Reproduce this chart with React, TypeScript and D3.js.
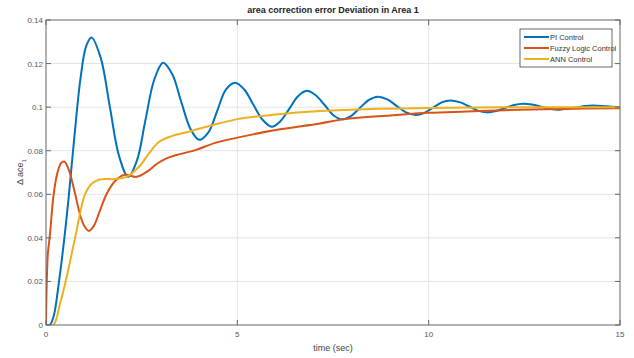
import React from 'react';
import * as d3 from 'd3';

// time (sec) / value pairs
const piTime = [0, 0.1, 0.2, 0.34, 0.48, 0.6, 0.75, 0.9, 1.05, 1.19, 1.43, 1.67, 1.91, 2.15, 2.38, 2.6, 2.83, 3.06, 3.3, 3.53, 3.77, 4.0, 4.24, 4.47, 4.7, 4.94, 5.18, 5.42, 5.66, 5.9, 6.13, 6.36, 6.58, 6.81, 7.04, 7.28, 7.51, 7.74, 7.97, 8.2, 8.44, 8.67, 8.92, 9.16, 9.41, 9.66, 9.89, 10.12, 10.34, 10.57, 10.81, 11.05, 11.28, 11.52, 11.76, 12.0, 12.23, 12.47, 12.7, 12.94, 13.17, 13.4, 13.62, 13.85, 14.08, 14.3, 14.65, 15];
const piValue = [0, 0, 0.004, 0.02, 0.04, 0.06, 0.088, 0.113, 0.128, 0.132, 0.1226, 0.1, 0.0775, 0.068, 0.0757, 0.0942, 0.1127, 0.1204, 0.1151, 0.1027, 0.0902, 0.085, 0.0883, 0.0981, 0.108, 0.1112, 0.1081, 0.1011, 0.0942, 0.091, 0.0936, 0.0993, 0.1049, 0.1075, 0.1056, 0.101, 0.0963, 0.0944, 0.0959, 0.0996, 0.1033, 0.1048, 0.1036, 0.1006, 0.0976, 0.0964, 0.0974, 0.0998, 0.1022, 0.1031, 0.1023, 0.1004, 0.0984, 0.0976, 0.0982, 0.0996, 0.101, 0.1016, 0.1012, 0.1002, 0.0992, 0.0988, 0.0993, 0.0998, 0.1005, 0.1008, 0.1004, 0.1];

const fuzzyTime = [0, 0.02, 0.05, 0.1, 0.2, 0.3, 0.4, 0.48, 0.6, 0.75, 0.9, 1.0, 1.12, 1.25, 1.4, 1.58, 1.8, 2.05, 2.37, 2.65, 2.9, 3.15, 3.41, 3.94, 4.4, 5, 6, 7.16, 7.8, 9, 10, 11, 12, 13.5, 15];
const fuzzyValue = [0, 0.02, 0.033, 0.041, 0.06, 0.07, 0.0745, 0.075, 0.071, 0.061, 0.05, 0.0455, 0.0432, 0.0455, 0.052, 0.06, 0.066, 0.069, 0.068, 0.0705, 0.074, 0.0765, 0.078, 0.0805, 0.0835, 0.086, 0.0895, 0.0925, 0.0945, 0.0962, 0.0974, 0.098, 0.0986, 0.0992, 0.0995];

const annTime = [0, 0.19, 0.37, 0.54, 0.76, 1.02, 1.2, 1.41, 1.8, 2.1, 2.45, 2.7, 2.95, 3.3, 3.68, 4.2, 5, 6, 7.16, 8.5, 10, 12, 15];
const annValue = [0, 0, 0.01, 0.022, 0.04, 0.06, 0.065, 0.0668, 0.067, 0.068, 0.073, 0.079, 0.084, 0.0868, 0.0885, 0.091, 0.0945, 0.0966, 0.0982, 0.0992, 0.0996, 0.0999, 0.1];

const xTicks = [0, 5, 10, 15];
const yTicks = [0, 0.02, 0.04, 0.06, 0.08, 0.1, 0.12, 0.14];

const series = [
  { name: 'PI Control', color: '#0072BD', t: piTime, v: piValue },
  { name: 'Fuzzy Logic Control', color: '#D95319', t: fuzzyTime, v: fuzzyValue },
  { name: 'ANN Control', color: '#EDB120', t: annTime, v: annValue },
];

const width = 634;
const height = 358;
const margin = { top: 20, right: 14, bottom: 33, left: 46 };

export default function App() {
  const x = d3.scaleLinear().domain([0, 15]).range([margin.left, width - margin.right]);
  const y = d3.scaleLinear().domain([0, 0.14]).range([height - margin.bottom, margin.top]);

  const line = d3
    .line<[number, number]>()
    .x((d) => x(d[0]))
    .y((d) => y(d[1]))
    .curve(d3.curveCatmullRom.alpha(0.5));

  const font = 'Liberation Sans, Arial, sans-serif';
  const axisColor = '#666';
  const x0 = x(0), x1 = x(15), y0 = y(0), y1 = y(0.14);

  return (
    <svg width={width} height={height} style={{ position: 'absolute', left: 0, top: 0, background: '#fff' }} fontFamily={font}>
      <defs>
        <clipPath id="plot-clip">
          <rect x={x0} y={y1} width={x1 - x0} height={y0 - y1} />
        </clipPath>
      </defs>

      {/* grid */}
      {xTicks.slice(1, -1).map((t) => (
        <line key={'gx' + t} x1={x(t)} x2={x(t)} y1={y0} y2={y1} stroke="#e3e3e3" strokeWidth={1} />
      ))}
      {yTicks.slice(1, -1).map((t) => (
        <line key={'gy' + t} x1={x0} x2={x1} y1={y(t)} y2={y(t)} stroke="#e3e3e3" strokeWidth={1} />
      ))}

      {/* curves */}
      <g clipPath="url(#plot-clip)">
        {series.map((s) => (
          <path
            key={s.name}
            d={line(s.t.map((t, i) => [t, s.v[i]] as [number, number])) || ''}
            fill="none"
            stroke={s.color}
            strokeWidth={2}
          />
        ))}
      </g>

      {/* box */}
      <rect x={x0} y={y1} width={x1 - x0} height={y0 - y1} fill="none" stroke={axisColor} strokeWidth={1} />

      {/* ticks */}
      {xTicks.map((t) => (
        <g key={'xt' + t}>
          <line x1={x(t)} x2={x(t)} y1={y0} y2={y0 - 5} stroke={axisColor} />
          <line x1={x(t)} x2={x(t)} y1={y1} y2={y1 + 5} stroke={axisColor} />
          <text x={x(t)} y={y0 + 12} textAnchor="middle" fontSize={8} fill="#555">{t}</text>
        </g>
      ))}
      {yTicks.map((t) => (
        <g key={'yt' + t}>
          <line x1={x0} x2={x0 + 5} y1={y(t)} y2={y(t)} stroke={axisColor} />
          <line x1={x1} x2={x1 - 5} y1={y(t)} y2={y(t)} stroke={axisColor} />
          <text x={x0 - 3} y={y(t) + 3} textAnchor="end" fontSize={8} fill="#555">{t === 0 ? '0' : d3.format('.2~f')(t)}</text>
        </g>
      ))}

      {/* title and labels */}
      <text x={333} y={13} textAnchor="middle" fontSize={9} fontWeight="bold" fill="#222">
        area correction error Deviation in Area 1
      </text>
      <text x={333} y={351} textAnchor="middle" fontSize={9} fill="#444">time (sec)</text>
      <text transform={`translate(23, 172) rotate(-90)`} textAnchor="middle" fontSize={9} fill="#444">
        Δ ace<tspan fontSize={6} dy={3}>1</tspan>
      </text>

      {/* legend */}
      <g>
        <rect x={520} y={29} width={92} height={38} fill="#fff" stroke="#444" strokeWidth={0.8} />
        {series.map((s, i) => (
          <g key={'lg' + s.name}>
            <line x1={524} x2={549} y1={37 + i * 11} y2={37 + i * 11} stroke={s.color} strokeWidth={2} />
            <text x={550} y={40 + i * 11} fontSize={7.5} fill="#333">{s.name}</text>
          </g>
        ))}
      </g>
    </svg>
  );
}
